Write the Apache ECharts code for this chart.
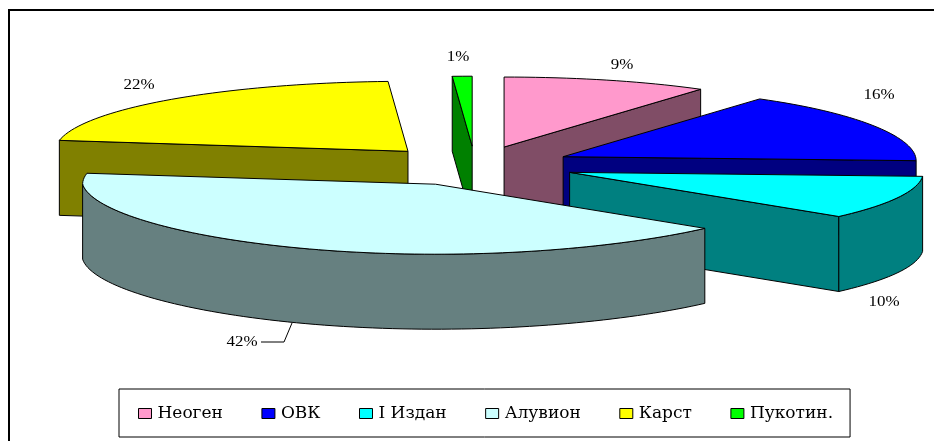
<!DOCTYPE html>
<html><head><meta charset="utf-8">
<style>html,body{margin:0;padding:0;background:#fff}#c{width:934px;height:441px}</style>
<script src="https://cdn.jsdelivr.net/npm/echarts@6/dist/echarts.min.js"></script>
</head><body><div id="c"></div>
<script>
const categories = ['Неоген','ОВК','І Издан','Алувион','Карст','Пукотин.'];
const values = [9.4,15.6,10.4,42.1,21.6,0.9];
const tickLabels = ['9%','16%','10%','42%','22%','1%'];
const topColors = ['#FF99CC','#0000FF','#00FFFF','#CCFFFF','#FFFF00','#00FF00'];
const sideColors = ['#804D66','#000080','#008080','#668080','#808000','#008000'];
const labelSpots = [[622,65],[879,95],[884,302],[242,342],[139,85],[458,57]];
const pie = {cx:475, cy:166, rx:353, ry:70, depth:75, explode:0.283, perspective:0.065, tilt:4};
const total = values.reduce((a,b)=>a+b,0);
let cum = 0;
const slices = values.map((v,i)=>{
  const t1 = cum/total*2*Math.PI; cum += v;
  const t2 = cum/total*2*Math.PI; const m=(t1+t2)/2;
  return {i,t1,t2,x:pie.cx+pie.explode*pie.rx*Math.sin(m),y:pie.cy-pie.explode*pie.ry*Math.cos(m)};
});
const rim=(s,t,z)=>[
  s.x+pie.rx*(1+pie.perspective*Math.min(0,Math.cos(t)))*Math.sin(t),
  s.y-pie.ry*Math.cos(t)+pie.tilt*Math.pow(Math.max(0,Math.sin(t)),4)+z];
function arc(s,a,b,z){const n=Math.max(2,Math.ceil((b-a)/0.03)),p=[];for(let k=0;k<=n;k++)p.push(rim(s,a+(b-a)*k/n,z));return p;}
const EPS=1e-6;
function renderSlice(s){
  const kids=[]; const stroke='#000'; const side=sideColors[s.i];
  const poly=(points,fill)=>kids.push({type:'polygon',shape:{points},style:{fill,stroke,lineWidth:1}});
  const d=pie.depth, A=[s.x,s.y], Ad=[s.x,s.y+d];
  if(Math.sin(s.t1)<-EPS) poly([A,rim(s,s.t1,0),rim(s,s.t1,d),Ad],side);
  if(Math.sin(s.t2)>EPS) poly([A,rim(s,s.t2,0),rim(s,s.t2,d),Ad],side);
  const a=Math.max(s.t1,Math.PI/2), b=Math.min(s.t2,Math.PI*1.5);
  if(b>a) poly(arc(s,a,b,0).concat(arc(s,a,b,d).reverse()),side);
  poly([A].concat(arc(s,s.t1,s.t2,0)),topColors[s.i]);
  return kids;
}
const labelFont='15px "Liberation Serif"';
const series = slices.map(s=>({
  type:'custom', name:categories[s.i], coordinateSystem:'none', silent:true,
  z:2+s.y/100, data:[[values[s.i]]], itemStyle:{color:topColors[s.i]},
  renderItem(){ 
    const kids=renderSlice(s);
    const p=labelSpots[s.i];
    kids.push({type:'text',x:p[0],y:p[1],scaleX:1.13,z2:50,style:{text:tickLabels[s.i],font:labelFont,fill:'#000',textAlign:'center',textVerticalAlign:'middle'}});
    if(s.i===3) kids.push({type:'polyline',shape:{points:[[261,342],[284,342],[292,323]]},style:{stroke:'#000',lineWidth:1,fill:null}});
    return {type:'group',children:kids};
  }
}));
const chart=echarts.init(document.getElementById('c'),null,{renderer:'canvas'});
chart.setOption({
  animation:false,
  graphic:[{type:'rect',z:0,shape:{x:9,y:10,width:1000,height:1000},style:{fill:null,stroke:'#000',lineWidth:2}}],
  legend:{data:categories,left:119,top:389,orient:'horizontal',itemGap:38.5,itemWidth:13,itemHeight:10,
    selectedMode:false,backgroundColor:'#fff',borderColor:'#000',borderWidth:1,padding:[16,17,15,19],icon:'rect',
    itemStyle:{borderColor:'#000',borderWidth:1},
    textStyle:{fontFamily:'DejaVu Serif',fontSize:17,color:'#000',padding:[0,0,0,1]}},
  series
});
</script></body></html>
